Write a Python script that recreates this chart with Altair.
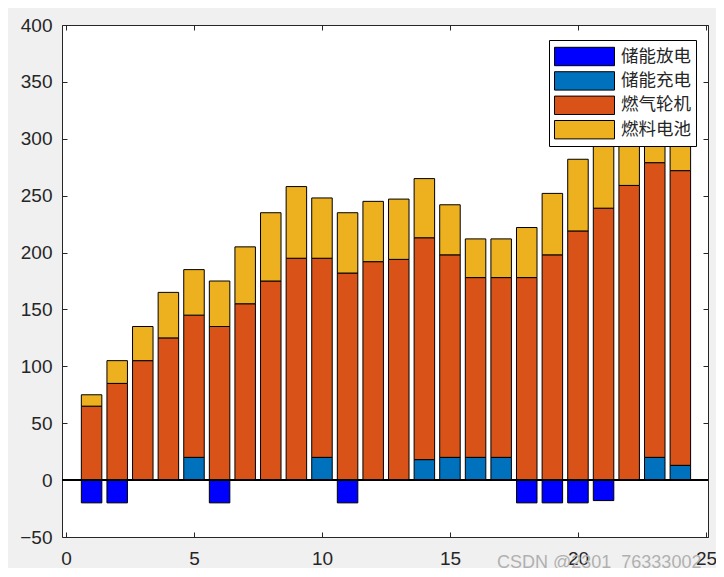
import altair as alt
import pandas as pd

# ---- data ----
hours = list(range(1, 25))
series_names = ["储能放电", "储能充电", "燃气轮机", "燃料电池"]
series_colors = ["#0000FF", "#0072BD", "#D95319", "#EDB120"]

discharge = [-20, -20, 0, 0, 0, -20, 0, 0, 0, 0, -20, 0, 0, 0, 0, 0, 0, -20, -20, -20, -18, 0, 0, 0]
charge = [0, 0, 0, 0, 20, 0, 0, 0, 0, 20, 0, 0, 0, 18, 20, 20, 20, 0, 0, 0, 0, 0, 20, 13]
gas_turbine = [65, 85, 105, 125, 125, 135, 155, 175, 195, 175, 182, 192, 194, 195, 178, 158,
               158, 178, 198, 219, 239, 259, 259, 259]
fuel_cell = [10, 20, 30, 40, 40, 40, 50, 60, 63, 53, 53, 53, 53, 52, 44, 34,
             34, 44, 54, 63, 72, 62, 52, 47]

x_ticks = [0, 5, 10, 15, 20, 25]
y_ticks = [-50, 0, 50, 100, 150, 200, 250, 300, 350, 400]
x_domain = [-0.156, 25.08]
y_domain = [-50, 400]
watermark = "CSDN @2301_76333002"

rows = []
for i, h in enumerate(hours):
    for k, (name, vals) in enumerate(zip(series_names, [discharge, charge, gas_turbine, fuel_cell])):
        if vals[i] != 0:
            rows.append({"hour": h, "series": name, "value": vals[i], "ord": k})
df = pd.DataFrame(rows)

W, H = 646, 512
TXT = "#262626"
FONT = "Liberation Sans"

xs = alt.Scale(domain=x_domain, nice=False, zero=False, padding=0)
ys = alt.Scale(domain=y_domain, nice=False, padding=0)

bars = alt.Chart(df).mark_bar(size=20.5, stroke="black", strokeWidth=1, opacity=1).encode(
    x=alt.X("hour:Q", scale=xs, title=None,
            axis=alt.Axis(orient="bottom", values=x_ticks, offset=-5, tickSize=5, domain=False,
                          grid=False, labelFontSize=19, labelFont=FONT, labelColor=TXT,
                          tickColor=TXT, labelPadding=12, labelFlush=False, labelOverlap=False,
                          format="d")),
    y=alt.Y("value:Q", scale=ys, stack="zero", title=None,
            axis=alt.Axis(orient="left", values=y_ticks, offset=-5, tickSize=5, domain=False,
                          grid=False, labelFontSize=19, labelFont=FONT, labelColor=TXT,
                          tickColor=TXT, labelPadding=10, labelOverlap=False, format="d")),
    color=alt.Color("series:N",
                    scale=alt.Scale(domain=series_names, range=series_colors),
                    legend=alt.Legend(
                        title=None, orient="none", legendX=487, legendY=15,
                        fillColor="white", strokeColor="black", padding=5,
                        symbolType="M-1,-0.836H4.455V0.836H-1Z", symbolSize=484,
                        symbolStrokeColor="black", symbolStrokeWidth=1, symbolOpacity=1,
                        labelFont="Noto Sans CJK SC", labelFontSize=17.5, labelColor=TXT,
                        labelOffset=44, rowPadding=1.4, labelLimit=200)),
    order=alt.Order("ord:Q"),
)

frame_axes = alt.Chart(df).mark_point(opacity=0).encode(
    x=alt.X("hour:Q", scale=xs, title=None,
            axis=alt.Axis(orient="top", values=x_ticks, offset=-5, tickSize=5, domain=False,
                          grid=False, labels=False, tickColor=TXT)),
    y=alt.Y("value:Q", scale=ys, title=None,
            axis=alt.Axis(orient="right", values=y_ticks, offset=-5, tickSize=5, domain=False,
                          grid=False, labels=False, tickColor=TXT)),
)

zero_line = alt.Chart(df).mark_rule(color="black", strokeWidth=1).encode(
    y=alt.YDatum(0, axis=None)
)

wm = alt.Chart(pd.DataFrame({"t": [watermark]})).mark_text(
    align="left", baseline="alphabetic", font=FONT, fontSize=18, color="#b0b0b0"
).encode(text="t:N", x=alt.value(435), y=alt.value(543))

chart = alt.layer(bars, zero_line, frame_axes, wm).resolve_axis(
    x="independent", y="independent"
).properties(
    width=W, height=H,
    autosize=alt.AutoSizeParams(type="none"),
    padding={"left": 54, "top": 17, "right": 8, "bottom": 31},
).configure(background="#f0f0f0").configure_view(
    fill="white", stroke=TXT, strokeWidth=1
)

chart.save("out.html", embed_options={"renderer": "svg", "actions": False})
